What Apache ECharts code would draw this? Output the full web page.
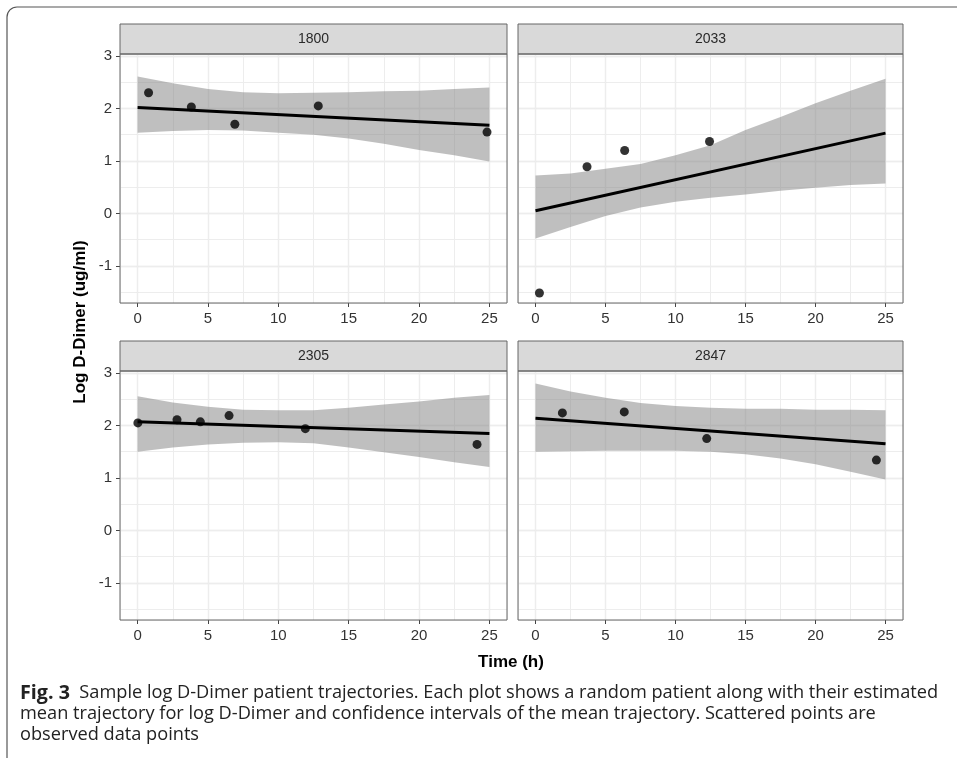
<!DOCTYPE html>
<html><head><meta charset="utf-8">
<script src="https://cdn.jsdelivr.net/npm/echarts@6/dist/echarts.min.js"></script>
<style>html,body{margin:0;padding:0;background:#fff}#c{width:957px;height:763px}</style>
</head><body><div id="c"></div>
<script>
// ---------------- data ----------------
const panelNames = ['1800', '2033', '2305', '2847'];
const xTicks = [0, 5, 10, 15, 20, 25];
const yTicks = [-1, 0, 1, 2, 3];
const bandTimes = [0, 2.5, 5, 7.5, 10, 12.5, 15, 17.5, 20, 22.5, 25];
const trendTimes = [0, 25];

const obsTime1800 = [0.78, 3.82, 6.91, 12.84, 24.83];
const obsValue1800 = [2.30, 2.03, 1.70, 2.05, 1.55];
const trend1800 = [2.02, 1.68];
const bandUpper1800 = [2.61, 2.48, 2.37, 2.31, 2.29, 2.30, 2.31, 2.33, 2.34, 2.37, 2.40];
const bandLower1800 = [1.54, 1.57, 1.59, 1.58, 1.54, 1.50, 1.43, 1.33, 1.21, 1.11, 0.99];

const obsTime2033 = [0.28, 3.68, 6.37, 12.43];
const obsValue2033 = [-1.52, 0.89, 1.20, 1.37];
const trend2033 = [0.05, 1.53];
const bandUpper2033 = [0.72, 0.76, 0.85, 0.94, 1.11, 1.30, 1.59, 1.84, 2.10, 2.34, 2.57];
const bandLower2033 = [-0.48, -0.26, -0.05, 0.11, 0.22, 0.30, 0.36, 0.43, 0.49, 0.54, 0.57];

const obsTime2305 = [0.02, 2.80, 4.46, 6.50, 11.92, 24.12];
const obsValue2305 = [2.05, 2.11, 2.07, 2.19, 1.94, 1.64];
const trend2305 = [2.07, 1.85];
const bandUpper2305 = [2.56, 2.44, 2.36, 2.30, 2.29, 2.29, 2.34, 2.40, 2.46, 2.53, 2.58];
const bandLower2305 = [1.50, 1.58, 1.64, 1.67, 1.68, 1.66, 1.58, 1.49, 1.40, 1.30, 1.21];

const obsTime2847 = [1.92, 6.34, 12.23, 24.35];
const obsValue2847 = [2.24, 2.26, 1.75, 1.34];
const trend2847 = [2.14, 1.65];
const bandUpper2847 = [2.80, 2.65, 2.53, 2.43, 2.37, 2.34, 2.32, 2.32, 2.30, 2.30, 2.29];
const bandLower2847 = [1.50, 1.51, 1.52, 1.52, 1.52, 1.50, 1.45, 1.37, 1.26, 1.12, 0.97];

const xTitle = 'Time (h)';
const yTitle = 'Log D-Dimer (ug/ml)';
const captionBold = 'Fig. 3';
const captionLines = [
  'Sample log D-Dimer patient trajectories. Each plot shows a random patient along with their estimated',
  'mean trajectory for log D-Dimer and confidence intervals of the mean trajectory. Scattered points are',
  'observed data points'
];

// ---------------- build ----------------
const panels = [
  { obsT: obsTime1800, obsV: obsValue1800, trend: trend1800, up: bandUpper1800, lo: bandLower1800 },
  { obsT: obsTime2033, obsV: obsValue2033, trend: trend2033, up: bandUpper2033, lo: bandLower2033 },
  { obsT: obsTime2305, obsV: obsValue2305, trend: trend2305, up: bandUpper2305, lo: bandLower2305 },
  { obsT: obsTime2847, obsV: obsValue2847, trend: trend2847, up: bandUpper2847, lo: bandLower2847 }
];
const X_MIN = -1.25, X_MAX = 26.25, Y_MIN = -1.71, Y_MAX = 3.04;
const boxes = [
  { left: 120, top: 54, width: 387, height: 249 },
  { left: 518, top: 54, width: 385, height: 249 },
  { left: 120, top: 371, width: 387, height: 249 },
  { left: 518, top: 371, width: 385, height: 249 }
];
const STRIP_H = 30;
const FONT = '"Liberation Sans", Arial, Helvetica, sans-serif';
const majorGrid = { show: true, lineStyle: { color: '#E2E2E2', width: 1.3 } };
const minorGrid = { show: true, lineStyle: { color: '#EDEDED', width: 1 } };
const BAND_FILL = 'rgba(128,128,128,0.5)';

const grid = [], xAxis = [], yAxis = [], series = [], graphic = [];
const isInt = v => Math.abs(v - Math.round(v)) < 1e-6;

function bandRenderer(p) {
  return function (params, api) {
    if (params.dataIndex !== 0) return null;
    const pts = [];
    for (let k = 0; k < bandTimes.length; k++) pts.push(api.coord([bandTimes[k], p.up[k]]));
    for (let k = bandTimes.length - 1; k >= 0; k--) pts.push(api.coord([bandTimes[k], p.lo[k]]));
    return { type: 'polygon', shape: { points: pts }, style: { fill: BAND_FILL } };
  };
}

boxes.forEach((b, i) => {
  grid.push({ left: b.left, top: b.top, width: b.width, height: b.height, show: true, backgroundColor: '#fff', borderWidth: 0 });
  const leftCol = (i % 2 === 0);
  xAxis.push({
    type: 'value', gridIndex: i, min: X_MIN, max: X_MAX, minInterval: 5, maxInterval: 5, splitNumber: 6,
    position: 'bottom',
    axisLine: { show: false, onZero: false },
    axisTick: { show: true, length: 4, lineStyle: { color: '#444', width: 1 }, customValues: xTicks },
    axisLabel: { show: true, customValues: xTicks, margin: 8, color: '#333', fontSize: 15, fontFamily: FONT,
      formatter: v => (isInt(v) ? String(Math.round(v)) : '') },
    splitLine: majorGrid
  });
  xAxis.push({
    type: 'value', gridIndex: i, min: X_MIN, max: X_MAX, minInterval: 2.5, maxInterval: 2.5, splitNumber: 11,
    position: 'top', axisLine: { show: false, onZero: false }, axisTick: { show: false }, axisLabel: { show: false },
    splitLine: minorGrid
  });
  yAxis.push({
    type: 'value', gridIndex: i, min: Y_MIN, max: Y_MAX, minInterval: 1, maxInterval: 1, splitNumber: 5,
    position: 'left',
    axisLine: { show: false, onZero: false },
    axisTick: { show: leftCol, length: 4, lineStyle: { color: '#444', width: 1 }, customValues: yTicks },
    axisLabel: { show: leftCol, customValues: yTicks, margin: 8, color: '#333', fontSize: 15, fontFamily: FONT,
      formatter: v => (isInt(v) ? String(Math.round(v)) : '') },
    splitLine: majorGrid
  });
  yAxis.push({
    type: 'value', gridIndex: i, min: Y_MIN, max: Y_MAX, minInterval: 0.5, maxInterval: 0.5, splitNumber: 10,
    position: 'right', axisLine: { show: false, onZero: false }, axisTick: { show: false }, axisLabel: { show: false },
    splitLine: minorGrid
  });

  const p = panels[i];
  const xi = 2 * i, yi = 2 * i;
  series.push({
    type: 'custom', xAxisIndex: xi, yAxisIndex: yi, silent: true, z: 2,
    data: bandTimes.map((t, k) => [t, p.lo[k], p.up[k]]),
    encode: { x: 0, y: [1, 2] },
    renderItem: bandRenderer(p)
  });
  series.push({
    type: 'line', xAxisIndex: xi, yAxisIndex: yi,
    data: trendTimes.map((t, k) => [t, p.trend[k]]), symbol: 'none',
    lineStyle: { color: '#000', width: 3 }, silent: true, z: 3
  });
  series.push({
    type: 'scatter', xAxisIndex: xi, yAxisIndex: yi,
    data: p.obsT.map((t, k) => [t, p.obsV[k]]), symbol: 'circle', symbolSize: 9,
    itemStyle: { color: '#000' }, silent: true, z: 4
  });

  graphic.push({
    type: 'rect', z: 20, shape: { x: b.left, y: b.top - STRIP_H, width: b.width, height: STRIP_H },
    style: { fill: '#D9D9D9', stroke: '#666', lineWidth: 1 }
  });
  graphic.push({
    type: 'text', z: 21, x: b.left + b.width / 2, y: b.top - STRIP_H / 2,
    style: { text: panelNames[i], fill: '#2a2a2a', font: '14px ' + FONT, textAlign: 'center', textVerticalAlign: 'middle' }
  });
  graphic.push({
    type: 'rect', z: 20, shape: { x: b.left, y: b.top, width: b.width, height: b.height },
    style: { fill: 'none', stroke: '#666', lineWidth: 1 }
  });
});

graphic.push({
  type: 'text', z: 21, x: 511, y: 662,
  style: { text: xTitle, fill: '#000', font: 'bold 17px ' + FONT, textAlign: 'center', textVerticalAlign: 'middle' }
});
graphic.push({
  type: 'text', z: 21, x: 80, y: 322, rotation: Math.PI / 2,
  style: { text: yTitle, fill: '#000', font: 'bold 17px ' + FONT, textAlign: 'center', textVerticalAlign: 'middle' }
});

graphic.push({ type: 'line', z: 21, shape: { x1: 17, y1: 7, x2: 957, y2: 7 }, style: { stroke: '#555', lineWidth: 1.2 } });
graphic.push({ type: 'line', z: 21, shape: { x1: 7, y1: 17, x2: 7, y2: 758 }, style: { stroke: '#555', lineWidth: 1.2 } });
graphic.push({ type: 'arc', z: 21, shape: { cx: 17, cy: 17, r: 10, startAngle: Math.PI, endAngle: 1.5 * Math.PI },
  style: { stroke: '#555', lineWidth: 1.2, fill: 'none' } });

// caption, sized so the first line spans the reference width
const CAP_FONT = '"Open Sans", "Noto Sans", sans-serif';
const BOLD_EXTRA = 1.5;
const mctx = document.createElement('canvas').getContext('2d');
function capWidth(sz) {
  mctx.font = 'bold ' + (sz + BOLD_EXTRA) + 'px ' + CAP_FONT;
  let w = mctx.measureText(captionBold).width;
  mctx.font = sz + 'px ' + CAP_FONT;
  w += mctx.measureText('  ' + captionLines[0]).width;
  return w;
}
const capSize = Math.round(18 * 918 / capWidth(18) * 10) / 10;
const CAP_X = 20;
const capY = [693, 714, 735];
graphic.push({
  type: 'text', z: 21, x: CAP_X, y: capY[0],
  style: {
    text: '{b|' + captionBold + '}  ' + captionLines[0], fill: '#222', font: capSize + 'px ' + CAP_FONT,
    textVerticalAlign: 'middle',
    rich: { b: { fontWeight: 'bold', fontSize: capSize + BOLD_EXTRA, fontFamily: CAP_FONT, fill: '#222' } }
  }
});
graphic.push({ type: 'text', z: 21, x: CAP_X, y: capY[1],
  style: { text: captionLines[1], fill: '#222', font: capSize + 'px ' + CAP_FONT, textVerticalAlign: 'middle' } });
graphic.push({ type: 'text', z: 21, x: CAP_X, y: capY[2],
  style: { text: captionLines[2], fill: '#222', font: capSize + 'px ' + CAP_FONT, textVerticalAlign: 'middle' } });

const chart = echarts.init(document.getElementById('c'), null, { renderer: 'canvas' });
chart.setOption({
  animation: false,
  backgroundColor: '#fff',
  grid, xAxis, yAxis, series, graphic
});
</script>
</body></html>
